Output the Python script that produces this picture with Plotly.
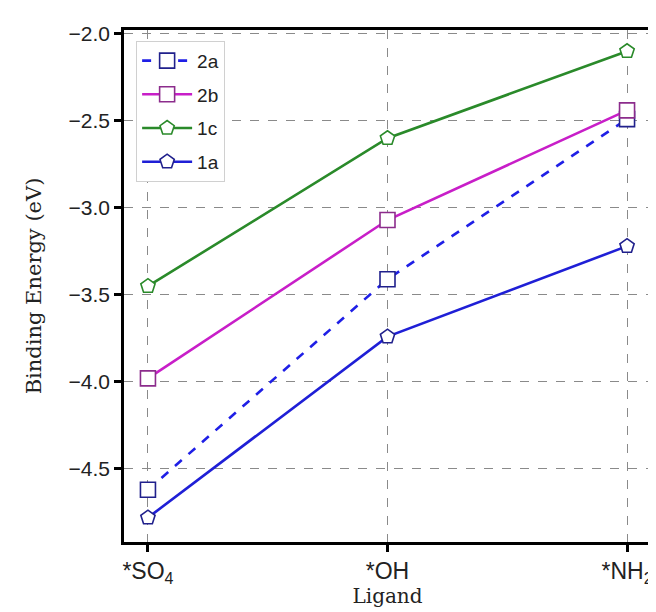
import plotly.graph_objects as go

ligands = ["*SO<sub>4</sub>", "*OH", "*NH<sub>2</sub>"]
x_pos = [0, 1, 2]
series_names = ["2a", "2b", "1c", "1a"]
val_2a = [-4.62, -3.41, -2.49]
val_2b = [-3.98, -3.07, -2.44]
val_1c = [-3.45, -2.60, -2.10]
val_1a = [-4.78, -3.74, -3.22]
y_ticks = [-2.0, -2.5, -3.0, -3.5, -4.0, -4.5]
y_tick_labels = ["\u22122.0", "\u22122.5", "\u22123.0", "\u22123.5", "\u22124.0", "\u22124.5"]

styles = [
    dict(y=val_2a, name="2a", color="#1f1fe6", edge="#20208c", dash="dash", symbol="square"),
    dict(y=val_2b, name="2b", color="#c81ec8", edge="#8c2c8c", dash="solid", symbol="square"),
    dict(y=val_1c, name="1c", color="#2a8a2a", edge="#2a8a2a", dash="solid", symbol="pentagon"),
    dict(y=val_1a, name="1a", color="#1f1fd6", edge="#20208c", dash="solid", symbol="pentagon"),
]

fig = go.Figure()
for s in styles:
    fig.add_trace(go.Scatter(
        x=x_pos, y=s["y"], name=s["name"], mode="lines+markers",
        legendgroup=s["name"],
        line=dict(color=s["color"], width=2.6, dash=s["dash"]),
        marker=dict(symbol=s["symbol"], size=15,
                    color="white", line=dict(color=s["edge"], width=1.6)),
    ))

fig.update_layout(
    width=656, height=612,
    margin=dict(l=116, r=13, t=22, b=78),
    plot_bgcolor="white", paper_bgcolor="white",
    showlegend=True,
    legend=dict(x=0.023, y=0.979, xanchor="left", yanchor="top",
                bgcolor="white", bordercolor="#d0d0d0", borderwidth=1,
                font=dict(family="Liberation Sans, Arial", size=19, color="#222"),
                itemwidth=50, tracegroupgap=6),
    font=dict(family="Liberation Sans, Arial", color="#222"),
)
fig.update_xaxes(
    range=[-0.1, 2.1], tickvals=x_pos, ticktext=ligands,
    tickfont=dict(family="Liberation Sans, Arial", size=23, color="#222"),
    showline=True, mirror=True, linecolor="black", linewidth=2.5,
    ticks="outside", ticklen=7, tickwidth=2.5, tickcolor="black",
    showgrid=True, gridcolor="#8a8a8a", griddash="dash", gridwidth=1,
    zeroline=False, automargin=False,
    title=dict(text="Ligand", font=dict(family="DejaVu Serif", size=20, color="#222"), standoff=0),
)
fig.update_yaxes(
    range=[-4.92, -1.978], tickvals=y_ticks, ticktext=y_tick_labels,
    tickfont=dict(family="Liberation Sans, Arial", size=21, color="#222"),
    showline=True, mirror=True, linecolor="black", linewidth=2.5,
    ticks="outside", ticklen=7, tickwidth=2.5, tickcolor="black",
    showgrid=True, gridcolor="#8a8a8a", griddash="dash", gridwidth=1,
    zeroline=False, automargin=False,
    title=dict(text="Binding Energy (eV)", font=dict(family="DejaVu Serif", size=21, color="#222"), standoff=22),
)

fig.write_html("out.html")
